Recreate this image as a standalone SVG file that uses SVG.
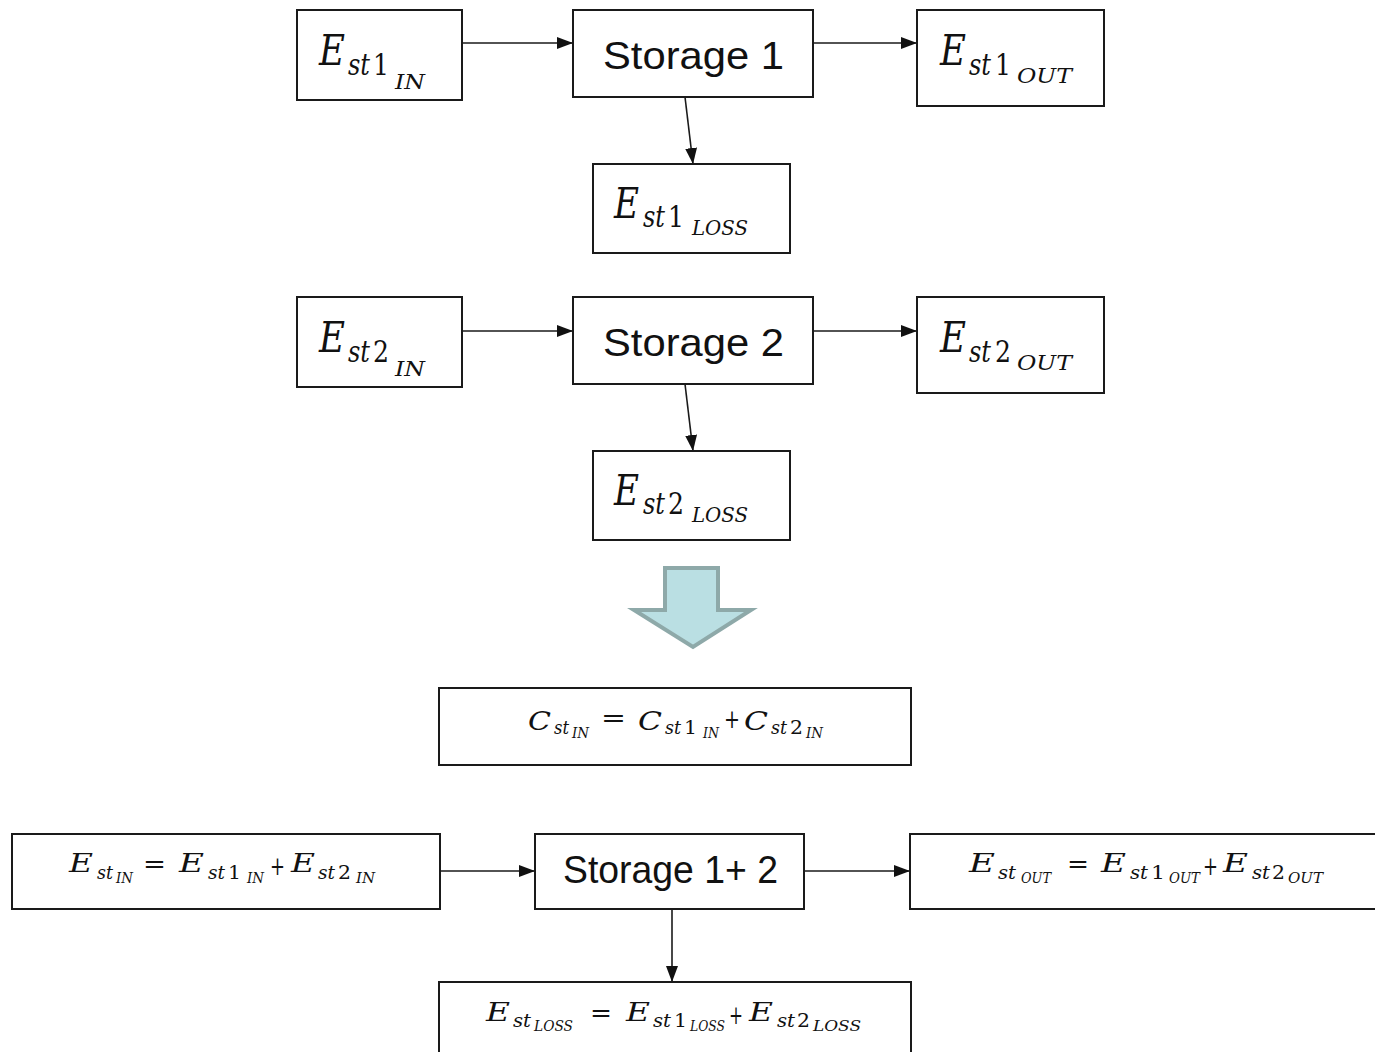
<svg xmlns="http://www.w3.org/2000/svg" width="1375" height="1052" viewBox="0 0 1375 1052">
  <style>
    .box { fill: #ffffff; stroke: #1a1a1a; stroke-width: 2; }
    .link { fill: none; stroke: #1a1a1a; stroke-width: 1.6; }
    .m { font-family: "DejaVu Serif", "Liberation Serif", serif; font-style: italic; fill: #111; }
    .up { font-style: normal; }
    .big { font-size: 42px; }
    .sub { font-size: 29px; }
    .sub2 { font-size: 21px; }
    .fE { font-size: 26px; }
    .fs { font-size: 18px; }
    .fs2 { font-size: 14px; }
    .op { font-style: normal; font-size: 26px; }
    .lbl { font-family: "Liberation Sans", Arial, sans-serif; font-size: 39px; fill: #111; }
  </style>
  <defs>
    <marker id="head" markerUnits="userSpaceOnUse" markerWidth="16" markerHeight="12" refX="16" refY="6" orient="auto">
      <path d="M0,0 L16,6 L0,12 z" fill="#111"/>
    </marker>
  </defs>

  <rect width="1375" height="1052" fill="#ffffff"/>

  <!-- connectors -->
  <g id="connectors">
    <line class="link" x1="462" y1="43" x2="573" y2="43" marker-end="url(#head)"/>
    <line class="link" x1="813" y1="43" x2="917" y2="43" marker-end="url(#head)"/>
    <line class="link" x1="685" y1="97" x2="693" y2="164" marker-end="url(#head)"/>
    <line class="link" x1="462" y1="331" x2="573" y2="331" marker-end="url(#head)"/>
    <line class="link" x1="813" y1="331" x2="917" y2="331" marker-end="url(#head)"/>
    <line class="link" x1="685" y1="384" x2="693" y2="451" marker-end="url(#head)"/>
    <line class="link" x1="440" y1="871" x2="535" y2="871" marker-end="url(#head)"/>
    <line class="link" x1="804" y1="871" x2="910" y2="871" marker-end="url(#head)"/>
    <line class="link" x1="672" y1="909" x2="672" y2="982" marker-end="url(#head)"/>
  </g>

  <!-- storage 1 -->
  <g id="st1-in">
    <rect class="box" x="297" y="10" width="165" height="90"/>
    <text class="m"><tspan class="big" x="319" y="65" textLength="26" lengthAdjust="spacingAndGlyphs">E</tspan><tspan class="sub" x="348" y="75" textLength="22" lengthAdjust="spacingAndGlyphs">st</tspan><tspan class="sub up" x="373" y="75" textLength="16" lengthAdjust="spacingAndGlyphs">1</tspan><tspan class="sub2" x="395" y="89" textLength="30" lengthAdjust="spacingAndGlyphs">IN</tspan></text>
  </g>
  <g id="storage1">
    <rect class="box" x="573" y="10" width="240" height="87"/>
    <text class="lbl" x="603" y="69" textLength="181" lengthAdjust="spacingAndGlyphs">Storage 1</text>
  </g>
  <g id="st1-out">
    <rect class="box" x="917" y="10" width="187" height="96"/>
    <text class="m"><tspan class="big" x="940" y="65" textLength="26" lengthAdjust="spacingAndGlyphs">E</tspan><tspan class="sub" x="969" y="75" textLength="22" lengthAdjust="spacingAndGlyphs">st</tspan><tspan class="sub up" x="995" y="75" textLength="16" lengthAdjust="spacingAndGlyphs">1</tspan><tspan class="sub2" x="1017" y="83" textLength="55" lengthAdjust="spacingAndGlyphs">OUT</tspan></text>
  </g>
  <g id="st1-loss">
    <rect class="box" x="593" y="164" width="197" height="89"/>
    <text class="m"><tspan class="big" x="614" y="218" textLength="25" lengthAdjust="spacingAndGlyphs">E</tspan><tspan class="sub" x="643" y="227" textLength="22" lengthAdjust="spacingAndGlyphs">st</tspan><tspan class="sub up" x="668" y="227" textLength="16" lengthAdjust="spacingAndGlyphs">1</tspan><tspan class="sub2" x="692" y="235" textLength="56" lengthAdjust="spacingAndGlyphs">LOSS</tspan></text>
  </g>

  <!-- storage 2 -->
  <g id="st2-in">
    <rect class="box" x="297" y="297" width="165" height="90"/>
    <text class="m"><tspan class="big" x="319" y="352" textLength="26" lengthAdjust="spacingAndGlyphs">E</tspan><tspan class="sub" x="348" y="362" textLength="22" lengthAdjust="spacingAndGlyphs">st</tspan><tspan class="sub up" x="373" y="362" textLength="16" lengthAdjust="spacingAndGlyphs">2</tspan><tspan class="sub2" x="395" y="376" textLength="30" lengthAdjust="spacingAndGlyphs">IN</tspan></text>
  </g>
  <g id="storage2">
    <rect class="box" x="573" y="297" width="240" height="87"/>
    <text class="lbl" x="603" y="356" textLength="181" lengthAdjust="spacingAndGlyphs">Storage 2</text>
  </g>
  <g id="st2-out">
    <rect class="box" x="917" y="297" width="187" height="96"/>
    <text class="m"><tspan class="big" x="940" y="352" textLength="26" lengthAdjust="spacingAndGlyphs">E</tspan><tspan class="sub" x="969" y="362" textLength="22" lengthAdjust="spacingAndGlyphs">st</tspan><tspan class="sub up" x="995" y="362" textLength="16" lengthAdjust="spacingAndGlyphs">2</tspan><tspan class="sub2" x="1017" y="370" textLength="55" lengthAdjust="spacingAndGlyphs">OUT</tspan></text>
  </g>
  <g id="st2-loss">
    <rect class="box" x="593" y="451" width="197" height="89"/>
    <text class="m"><tspan class="big" x="614" y="505" textLength="25" lengthAdjust="spacingAndGlyphs">E</tspan><tspan class="sub" x="643" y="514" textLength="22" lengthAdjust="spacingAndGlyphs">st</tspan><tspan class="sub up" x="668" y="514" textLength="16" lengthAdjust="spacingAndGlyphs">2</tspan><tspan class="sub2" x="692" y="522" textLength="56" lengthAdjust="spacingAndGlyphs">LOSS</tspan></text>
  </g>

  <!-- merge arrow -->
  <g id="merge-arrow">
    <polygon points="665,568 718,568 718,610 751,610 693,647 634,610 665,610" fill="#badfe3" stroke="#8ea9a9" stroke-width="4" stroke-linejoin="miter"/>
  </g>

  <!-- capacity -->
  <g id="capacity">
    <rect class="box" x="439" y="688" width="472" height="77"/>
    <text class="m">
      <tspan class="fE" x="528" y="730" textLength="23" lengthAdjust="spacingAndGlyphs">C</tspan><tspan class="fs" x="554" y="734" textLength="15" lengthAdjust="spacingAndGlyphs">st</tspan><tspan class="fs2" x="572" y="738" textLength="17" lengthAdjust="spacingAndGlyphs">IN</tspan>
      <tspan class="op" x="601" y="727" textLength="25" lengthAdjust="spacingAndGlyphs">=</tspan>
      <tspan class="fE" x="638" y="730" textLength="24" lengthAdjust="spacingAndGlyphs">C</tspan><tspan class="fs" x="665" y="734" textLength="16" lengthAdjust="spacingAndGlyphs">st</tspan><tspan class="fs up" x="684" y="734" textLength="13" lengthAdjust="spacingAndGlyphs">1</tspan><tspan class="fs2" x="703" y="738" textLength="16" lengthAdjust="spacingAndGlyphs">IN</tspan>
      <tspan class="op" x="724" y="728" textLength="16" lengthAdjust="spacingAndGlyphs">+</tspan>
      <tspan class="fE" x="744" y="730" textLength="24" lengthAdjust="spacingAndGlyphs">C</tspan><tspan class="fs" x="771" y="734" textLength="16" lengthAdjust="spacingAndGlyphs">st</tspan><tspan class="fs up" x="790" y="734" textLength="13" lengthAdjust="spacingAndGlyphs">2</tspan><tspan class="fs2" x="806" y="738" textLength="17" lengthAdjust="spacingAndGlyphs">IN</tspan>
    </text>
  </g>

  <!-- combined storage -->
  <g id="comb-in">
    <rect class="box" x="12" y="834" width="428" height="75"/>
    <text class="m">
      <tspan class="fE" x="69" y="872" textLength="24" lengthAdjust="spacingAndGlyphs">E</tspan><tspan class="fs" x="97" y="879" textLength="16" lengthAdjust="spacingAndGlyphs">st</tspan><tspan class="fs2" x="116" y="883" textLength="17" lengthAdjust="spacingAndGlyphs">IN</tspan>
      <tspan class="op" x="143" y="873" textLength="23" lengthAdjust="spacingAndGlyphs">=</tspan>
      <tspan class="fE" x="179" y="872" textLength="25" lengthAdjust="spacingAndGlyphs">E</tspan><tspan class="fs" x="208" y="879" textLength="17" lengthAdjust="spacingAndGlyphs">st</tspan><tspan class="fs up" x="228" y="879" textLength="13" lengthAdjust="spacingAndGlyphs">1</tspan><tspan class="fs2" x="247" y="883" textLength="17" lengthAdjust="spacingAndGlyphs">IN</tspan>
      <tspan class="op" x="270" y="875" textLength="15" lengthAdjust="spacingAndGlyphs">+</tspan>
      <tspan class="fE" x="291" y="872" textLength="24" lengthAdjust="spacingAndGlyphs">E</tspan><tspan class="fs" x="318" y="879" textLength="17" lengthAdjust="spacingAndGlyphs">st</tspan><tspan class="fs up" x="338" y="879" textLength="13" lengthAdjust="spacingAndGlyphs">2</tspan><tspan class="fs2" x="356" y="883" textLength="19" lengthAdjust="spacingAndGlyphs">IN</tspan>
    </text>
  </g>
  <g id="storage12">
    <rect class="box" x="535" y="834" width="269" height="75"/>
    <text class="lbl" x="563" y="883" font-size="34" textLength="215" lengthAdjust="spacingAndGlyphs">Storage 1+ 2</text>
  </g>
  <g id="comb-out">
    <rect class="box" x="910" y="834" width="470" height="75"/>
    <text class="m">
      <tspan class="fE" x="969" y="872" textLength="26" lengthAdjust="spacingAndGlyphs">E</tspan><tspan class="fs" x="998" y="879" textLength="18" lengthAdjust="spacingAndGlyphs">st</tspan><tspan class="fs2" x="1021" y="883" textLength="30" lengthAdjust="spacingAndGlyphs">OUT</tspan>
      <tspan class="op" x="1067" y="873" textLength="22" lengthAdjust="spacingAndGlyphs">=</tspan>
      <tspan class="fE" x="1101" y="872" textLength="25" lengthAdjust="spacingAndGlyphs">E</tspan><tspan class="fs" x="1130" y="879" textLength="18" lengthAdjust="spacingAndGlyphs">st</tspan><tspan class="fs up" x="1151" y="879" textLength="14" lengthAdjust="spacingAndGlyphs">1</tspan><tspan class="fs2" x="1169" y="883" textLength="31" lengthAdjust="spacingAndGlyphs">OUT</tspan>
      <tspan class="op" x="1203" y="875" textLength="15" lengthAdjust="spacingAndGlyphs">+</tspan>
      <tspan class="fE" x="1223" y="872" textLength="25" lengthAdjust="spacingAndGlyphs">E</tspan><tspan class="fs" x="1252" y="879" textLength="18" lengthAdjust="spacingAndGlyphs">st</tspan><tspan class="fs up" x="1272" y="879" textLength="13" lengthAdjust="spacingAndGlyphs">2</tspan><tspan class="fs2" x="1288" y="883" textLength="35" lengthAdjust="spacingAndGlyphs">OUT</tspan>
    </text>
  </g>
  <g id="comb-loss">
    <rect class="box" x="439" y="982" width="472" height="90"/>
    <text class="m">
      <tspan class="fE" x="486" y="1021" textLength="24" lengthAdjust="spacingAndGlyphs">E</tspan><tspan class="fs" x="513" y="1027" textLength="18" lengthAdjust="spacingAndGlyphs">st</tspan><tspan class="fs2" x="534" y="1031" textLength="39" lengthAdjust="spacingAndGlyphs">LOSS</tspan>
      <tspan class="op" x="590" y="1022" textLength="22" lengthAdjust="spacingAndGlyphs">=</tspan>
      <tspan class="fE" x="626" y="1021" textLength="24" lengthAdjust="spacingAndGlyphs">E</tspan><tspan class="fs" x="653" y="1027" textLength="18" lengthAdjust="spacingAndGlyphs">st</tspan><tspan class="fs up" x="674" y="1027" textLength="13" lengthAdjust="spacingAndGlyphs">1</tspan><tspan class="fs2" x="690" y="1031" textLength="35" lengthAdjust="spacingAndGlyphs">LOSS</tspan>
      <tspan class="op" x="729" y="1024" textLength="14" lengthAdjust="spacingAndGlyphs">+</tspan>
      <tspan class="fE" x="749" y="1021" textLength="24" lengthAdjust="spacingAndGlyphs">E</tspan><tspan class="fs" x="777" y="1027" textLength="18" lengthAdjust="spacingAndGlyphs">st</tspan><tspan class="fs up" x="797" y="1027" textLength="13" lengthAdjust="spacingAndGlyphs">2</tspan><tspan class="fs2" x="813" y="1031" textLength="48" lengthAdjust="spacingAndGlyphs">LOSS</tspan>
    </text>
  </g>
</svg>
